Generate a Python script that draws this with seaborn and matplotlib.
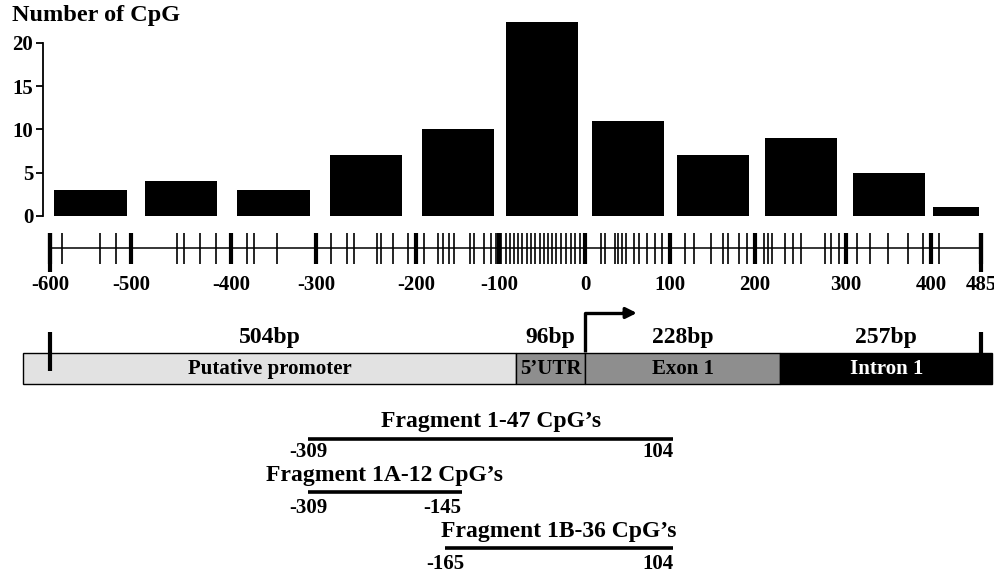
import numpy as np
import matplotlib
matplotlib.use('Agg')
import matplotlib.pyplot as plt
import seaborn as sns

# CpG counts per 100bp window
bin_edges = [-600, -500, -400, -300, -200, -100, 0, 100, 200, 300, 400, 485]
cpg_counts = [3, 4, 3, 7, 10, 22.4, 11, 7, 9, 5, 1]

# CpG sites along the region (bp relative to TSS)
cpg_sites = [-585, -538, -518,
             -454, -447, -431, -415,
             -381, -373, -346,
             -285, -269, -262, -239, -235, -223, -208,
             -190, -173, -167, -160, -154, -135, -130, -118, -110, -104,
             -98, -92, -87, -83, -78, -73, -67, -63, -58, -52, -48, -43, -38,
             -34, -28, -22, -16, -12, -6,
             19, 24, 35, 39, 44, 48, 58, 64, 73, 82, 91,
             118, 128, 148, 162, 168, 181, 191,
             210, 214, 219, 233, 242, 251, 277, 284, 292,
             313, 328, 349, 373, 391,
             414]
ruler_ticks = [-600, -500, -400, -300, -200, -100, 0, 100, 200, 300, 400, 485]

# gene structure
region_names = ['Putative promoter', '5\u2019UTR', 'Exon 1', 'Intron 1']
region_sizes = ['504bp', '96bp', '228bp', '257bp']
region_starts = [-633, -80, 0, 228]
region_ends = [-80, 0, 228, 504]
region_colors = ['#e2e2e2', '#8e8e8e', '#8e8e8e', '#000000']
region_text = ['black', 'black', 'black', 'white']

# amplified fragments
fragment_names = ['Fragment 1-47 CpG\u2019s', 'Fragment 1A-12 CpG\u2019s', 'Fragment 1B-36 CpG\u2019s']
fragment_starts = [-309, -309, -165]
fragment_ends = [104, -145, 104]

# the ruler in the original is drawn by hand, so the bp axis is piecewise linear
ruler_bp = [-662, -600, -500, -400, -300, -200, -100, 0, 100, 200, 300, 400, 485, 509]
ruler_px = [0, 50, 131, 231, 316, 416, 499, 585, 670, 755, 846, 931, 981, 995]


def fwd(x):
    return np.interp(x, ruler_bp, ruler_px)


def inv(x):
    return np.interp(x, ruler_px, ruler_bp)


sns.set_style('ticks')
plt.rcParams['font.family'] = ['Liberation Serif', 'DejaVu Serif']
plt.rcParams['font.weight'] = 'bold'
for k in ['text.color', 'axes.labelcolor', 'xtick.color', 'ytick.color', 'axes.edgecolor']:
    plt.rcParams[k] = 'black'

W, H = 995, 577
fig = plt.figure(figsize=(W / 100, H / 100), dpi=100)

# full-figure axes for the map, y in pixel rows
ax_map = fig.add_axes([0, 0, 1, 1])
ax_map.set_xscale('function', functions=(fwd, inv))
ax_map.set_xlim(ruler_bp[0], ruler_bp[-1])
ax_map.set_ylim(H, 0)
ax_map.axis('off')

# histogram, bars of equal drawn width centred on each window
ax = fig.add_axes([0, 1 - 216 / H, 1, 23 * 8.65 / H])
ax.set_xscale('function', functions=(fwd, inv))
lo = np.array(bin_edges[:-1])
hi = np.array(bin_edges[1:])
mid_px = fwd((lo + hi) / 2)
half_px = np.minimum(36, 0.46 * (fwd(hi) - fwd(lo)))
left = inv(mid_px - half_px)
right = inv(mid_px + half_px)
ax.bar(left, cpg_counts, width=right - left, align='edge', color='black', linewidth=0)
ax.set_xlim(ruler_bp[0], ruler_bp[-1])
ax.set_ylim(0, 23)
ax.set_yticks([0, 5, 10, 15, 20])
ax.set_xticks([])
for s in ['top', 'right', 'bottom']:
    ax.spines[s].set_visible(False)
ax.spines['left'].set_position(('axes', 43 / W))
ax.spines['left'].set_bounds(0, 20)
ax.spines['left'].set_linewidth(1.3)
ax.tick_params(axis='y', direction='out', length=5, width=1.3, pad=2, labelsize=15)
ax.patch.set_visible(False)
fig.text(12 / W, 1 - 16 / H, 'Number of CpG', fontsize=17.5, fontweight='bold',
         ha='left', va='center')

# CpG ruler
ax_map.hlines(248, ruler_ticks[0], ruler_ticks[-1], color='black', lw=1.1)
ax_map.vlines(cpg_sites, 233, 264, color='black', lw=1.2)
ax_map.vlines(ruler_ticks, 233, 264, color='black', lw=3)
ax_map.vlines([ruler_ticks[0], ruler_ticks[-1]], 233, 272, color='black', lw=3)
for t in ruler_ticks:
    ax_map.text(t, 285, str(t), ha='center', va='center', fontsize=15)

# gene structure
widths = [e - s for s, e in zip(region_starts, region_ends)]
ax_map.barh(368, widths, left=region_starts, height=31, color=region_colors,
            edgecolor='black', linewidth=1)
for s, e, name, size, tc in zip(region_starts, region_ends, region_names,
                                region_sizes, region_text):
    mid = inv((fwd(s) + fwd(e)) / 2)
    ax_map.text(mid, 369, name, ha='center', va='center', fontsize=15, color=tc)
    ax_map.text(mid, 337, size, ha='center', va='center', fontsize=17)
ax_map.vlines(ruler_ticks[0], 332, 371, color='black', lw=3)
ax_map.vlines(ruler_ticks[-1], 332, 353, color='black', lw=3)
ax_map.plot([0, 0, 50], [352, 313, 313], color='black', lw=2.4, solid_capstyle='butt')
ax_map.annotate('', xy=(61, 313), xytext=(45, 313),
                arrowprops=dict(arrowstyle='-|>', color='black', lw=2.4,
                                mutation_scale=16, shrinkA=0, shrinkB=0))

# fragments
title_y = [422, 476, 531]
line_y = [439, 492, 548]
label_y = [452, 508, 564]
for i in range(len(fragment_names)):
    s, e = fragment_starts[i], fragment_ends[i]
    ax_map.hlines(line_y[i], s, e, color='black', lw=2.6)
    mid = inv((fwd(s) + fwd(e)) / 2)
    ax_map.text(mid, title_y[i], fragment_names[i], ha='center', va='center', fontsize=17)
    ax_map.text(s, label_y[i], str(s), ha='center', va='center', fontsize=15)
    ax_map.text(e, label_y[i], str(e), ha='right', va='center', fontsize=15)

fig.savefig('out.png', dpi=100)
